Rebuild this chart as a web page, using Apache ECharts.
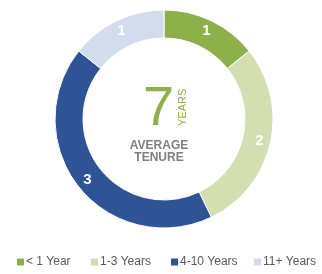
<!DOCTYPE html>
<html><head><meta charset="utf-8">
<script src="https://cdn.jsdelivr.net/npm/echarts@6/dist/echarts.min.js"></script>
<style>html,body{margin:0;padding:0;background:#fff}#c{width:322px;height:274px}</style>
</head><body><div id="c"></div>
<script>
const categories = ['< 1 Year', '1-3 Years', '4-10 Years', '11+ Years'];
const values = [1, 2, 3, 1];
const colors = ['#8db04b', '#d3dfb0', '#2f5496', '#d2dcec'];
const centerValue = '7';
const centerUnit = 'YEARS';
const centerCaption = ['AVERAGE', 'TENURE'];

const legendLeft = [12, 86, 166, 249];
const chart = echarts.init(document.getElementById('c'));
chart.setOption({
  animation: false,
  color: colors,
  textStyle: { fontFamily: 'Liberation Sans, Arial, sans-serif' },
  legend: categories.map((n, i) => ({
    top: 251, left: legendLeft[i],
    icon: 'rect', itemWidth: 7, itemHeight: 7,
    itemStyle: { borderWidth: 0 },
    textStyle: { color: '#595959', fontSize: 12, padding: [0, 0, 0, -3] },
    data: [n]
  })),
  series: [{
    type: 'pie',
    center: [164, 119],
    radius: [81, 109],
    startAngle: 90,
    clockwise: true,
    itemStyle: { borderColor: '#fff', borderWidth: 1 },
    label: { show: true, position: 'inside', formatter: '{c}', color: '#fff', fontSize: 15, fontWeight: 'bold' },
    labelLine: { show: false },
    emphasis: { disabled: true },
    data: categories.map((n, i) => ({ name: n, value: values[i] }))
  }],
  graphic: [
    { type: 'text', left: 143, top: 82, style: { text: centerValue, fill: '#8db04b', font: '56px Liberation Sans' } },
    { type: 'text', x: 177, y: 126, rotation: Math.PI / 2, style: { text: centerUnit, fill: '#8db04b', font: '11px Liberation Sans' } },
    { type: 'text', x: 159, y: 152, style: { text: centerCaption.join('\n'), fill: '#7f7f7f', font: 'bold 12px Liberation Sans', align: 'center', verticalAlign: 'middle', lineHeight: 12 } }
  ]
});
</script></body></html>
